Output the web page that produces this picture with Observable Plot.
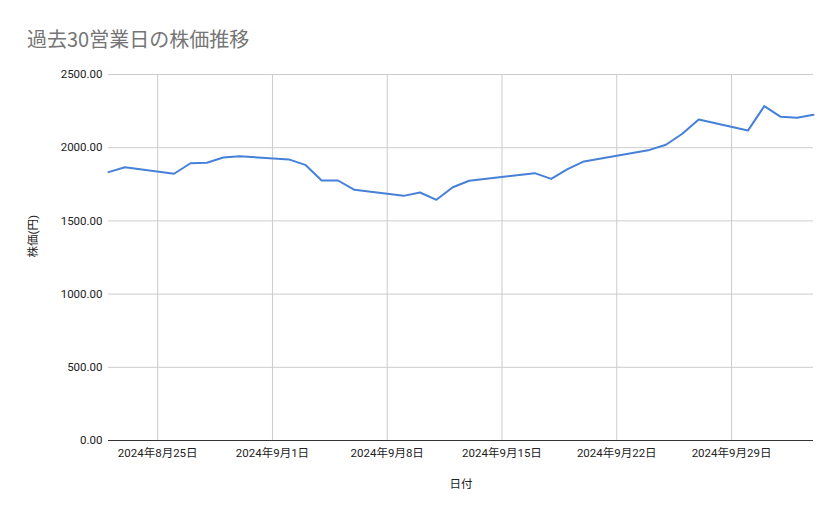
<!DOCTYPE html>
<html><head><meta charset="utf-8">
<script src="https://cdn.jsdelivr.net/npm/d3@7"></script>
<script src="https://cdn.jsdelivr.net/npm/@observablehq/plot@0.6"></script>
<style>
body{margin:0;background:#fff;}
#wrap{position:relative;width:839px;height:519px;font-family:Roboto,"Noto Sans CJK JP",sans-serif;}
#title{position:absolute;left:27px;top:24px;font-size:20px;color:#757575;font-family:"Noto Sans CJK JP",Roboto,sans-serif;}
</style></head>
<body><div id="wrap"><div id="title">過去30営業日の株価推移</div></div>
<script>
const dates = ["2024-08-22","2024-08-23","2024-08-26","2024-08-27","2024-08-28","2024-08-29","2024-08-30",
"2024-09-02","2024-09-03","2024-09-04","2024-09-05","2024-09-06",
"2024-09-09","2024-09-10","2024-09-11","2024-09-12","2024-09-13",
"2024-09-17","2024-09-18","2024-09-19","2024-09-20",
"2024-09-24","2024-09-25","2024-09-26","2024-09-27",
"2024-09-30","2024-10-01","2024-10-02","2024-10-03","2024-10-04"];
const prices = [1833,1867,1822,1894,1897,1933,1942,
1920,1883,1776,1776,1712,
1671,1694,1644,1730,1774,
1826,1787,1853,1906,
1985,2020,2095,2193,
2117,2284,2211,2204,2225];
const xTicks = ["2024-08-25","2024-09-01","2024-09-08","2024-09-15","2024-09-22","2024-09-29"];
const yTicks = [0,500,1000,1500,2000,2500];

const data = dates.map((d,i)=>({date:new Date(d+"T00:00:00Z"), price:prices[i]}));
const xt = xTicks.map(d=>new Date(d+"T00:00:00Z"));
const fmt = d => `${d.getUTCFullYear()}年${d.getUTCMonth()+1}月${d.getUTCDate()}日`;

const chart = Plot.plot({
  width:839, height:519,
  marginLeft:108, marginRight:26, marginTop:74, marginBottom:79,
  style:{fontFamily:'Roboto,"Noto Sans CJK JP",sans-serif', fontSize:"11.5px", color:"#222", background:"#fff"},
  x:{type:"utc", domain:[new Date("2024-08-22T00:00:00Z"), new Date("2024-10-04T00:00:00Z")], ticks:xt, tickFormat:fmt, tickSize:0, tickPadding:8, label:null},
  y:{domain:[0,2500], ticks:yTicks, tickFormat:d=>d.toFixed(2), tickSize:0, tickPadding:6, label:null},
  marks:[
    Plot.gridX(xt,{stroke:"#cccccc", strokeOpacity:1}),
    Plot.gridY(yTicks,{stroke:"#cccccc", strokeOpacity:1}),
    Plot.axisX({ticks:xt, tickFormat:fmt, tickSize:0, tickPadding:8, label:null, fontSize:11.5}),
    Plot.axisY({ticks:yTicks, tickFormat:d=>d.toFixed(2), tickSize:0, tickPadding:6, label:null, fontSize:11.5}),
    Plot.ruleY([0],{stroke:"#333", strokeWidth:1.2}),
    Plot.line(data,{x:"date", y:"price", stroke:"#4680d8", strokeWidth:2, curve:"linear"}),
    Plot.text(["日付"],{frameAnchor:"bottom", dy:47, fontSize:11.5, fill:"#222"}),
    Plot.text(["株価(円)"],{frameAnchor:"left", dx:-75, rotate:-90, fontSize:11.5, fill:"#222", letterSpacing:"1px"})
  ]
});
document.getElementById("wrap").appendChild(chart);
</script></body></html>
